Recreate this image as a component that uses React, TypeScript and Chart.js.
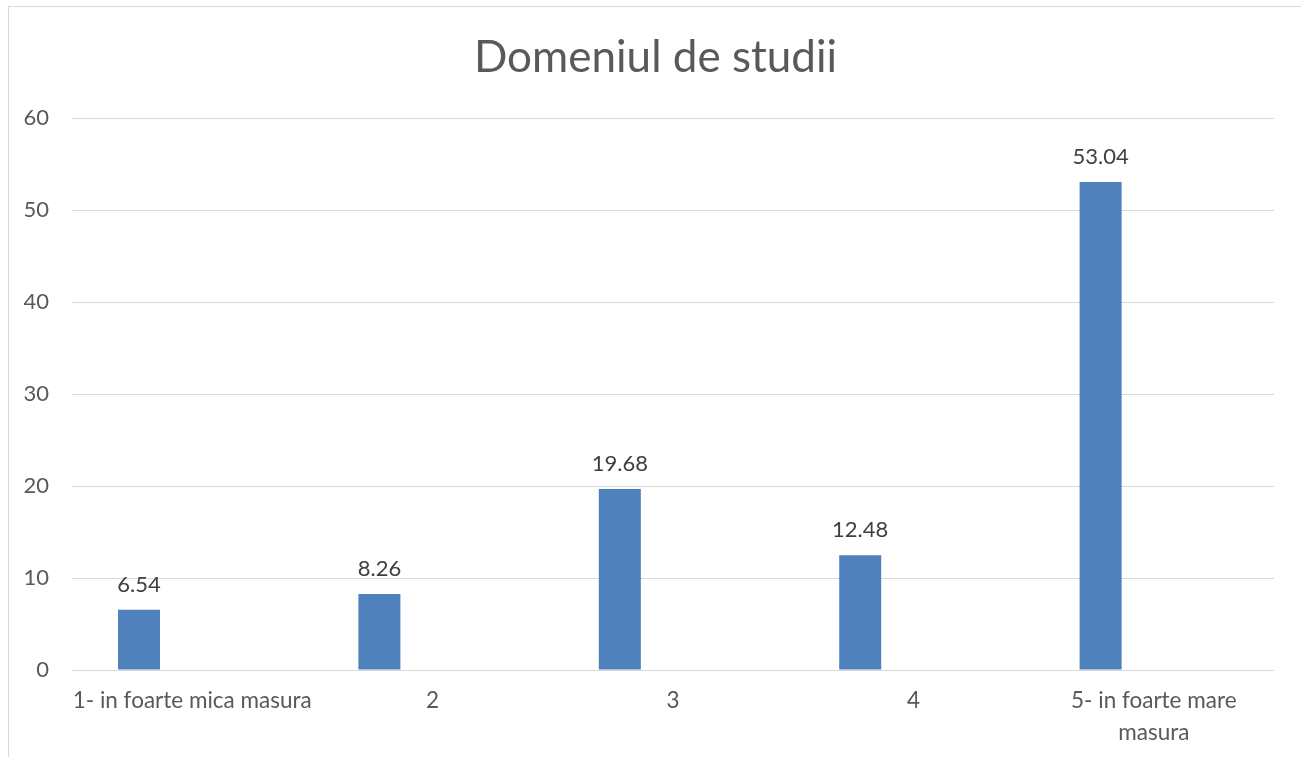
import React, { useEffect, useRef } from "react";
import { Chart, registerables } from "chart.js";

Chart.register(...registerables);

const TITLE = "Domeniul de studii";
const categories: (string | string[])[] = [
  "1- in foarte mica masura",
  "2",
  "3",
  "4",
  ["5- in foarte mare", "masura"],
];
const seriesValues: number[] = [6.54, 8.26, 19.68, 12.48, 53.04];
const emptySeries: (number | null)[] = [null, null, null, null, null];
const yTicks = { min: 0, max: 60, step: 10 };

const FONT = "Lato, 'Open Sans', sans-serif";

const dataLabelPlugin = {
  id: "dataLabels",
  afterDatasetsDraw(chart: any) {
    const ctx = chart.ctx;
    const meta = chart.getDatasetMeta(0);
    ctx.save();
    ctx.font = `22px ${FONT}`;
    ctx.fillStyle = "#404040";
    ctx.textAlign = "center";
    ctx.textBaseline = "alphabetic";
    meta.data.forEach((bar: any, i: number) => {
      const v = seriesValues[i];
      ctx.fillText(v.toFixed(2), bar.x, bar.y - 18);
    });
    ctx.restore();
  },
};

export default function App() {
  const ref = useRef<HTMLCanvasElement>(null);
  useEffect(() => {
    if (!ref.current) return;
    const chart = new Chart(ref.current, {
      type: "bar",
      data: {
        labels: categories,
        datasets: [
          {
            label: "Series 1",
            data: seriesValues,
            backgroundColor: "#4f81bd",
            categoryPercentage: 0.885,
            barPercentage: 0.395,
          },
          {
            label: "Series 2",
            data: emptySeries,
            backgroundColor: "#c0504d",
            categoryPercentage: 0.885,
            barPercentage: 0.395,
          },
        ],
      },
      options: {
        responsive: false,
        animation: false,
        devicePixelRatio: 1,
        layout: { padding: { left: 0, right: 7, top: 0, bottom: 0 } },
        plugins: {
          legend: { display: false },
          tooltip: { enabled: false },
          title: {
            display: true,
            text: TITLE,
            color: "#595959",
            font: { family: FONT, size: 44, weight: "normal", lineHeight: 1.2 },
            padding: { top: 24, bottom: 34.2 },
          },
        },
        scales: {
          x: {
            grid: { display: false, drawTicks: false },
            border: { display: false },
            ticks: {
              color: "#595959",
              font: { family: FONT, size: 22.5, lineHeight: 1.41 },
              padding: 15,
              maxRotation: 0,
              minRotation: 0,
              autoSkip: false,
            },
            afterFit(scale: any) {
              scale.height = 87;
            },
          },
          y: {
            min: yTicks.min,
            max: yTicks.max,
            grid: { color: "#d9d9d9", lineWidth: 1, drawTicks: false },
            border: { display: false },
            ticks: {
              stepSize: yTicks.step,
              color: "#595959",
              font: { family: FONT, size: 22 },
              padding: 23,
            },
            afterFit(scale: any) {
              scale.width = 63;
            },
          },
          yRight: {
            position: "right",
            display: true,
            min: yTicks.min,
            max: yTicks.max,
            grid: { display: false, drawTicks: false },
            border: { display: false },
            ticks: { display: false },
            afterFit(scale: any) {
              scale.width = 28;
            },
          },
        },
      },
      plugins: [dataLabelPlugin],
    });
    return () => chart.destroy();
  }, []);

  return (
    <div
      style={{
        position: "fixed",
        left: 8,
        top: 6,
        width: 1400,
        height: 800,
        border: "1px solid #d9d9d9",
        background: "#fff",
      }}
    >
      <canvas ref={ref} width={1300} height={750} style={{ display: "block" }} />
    </div>
  );
}
